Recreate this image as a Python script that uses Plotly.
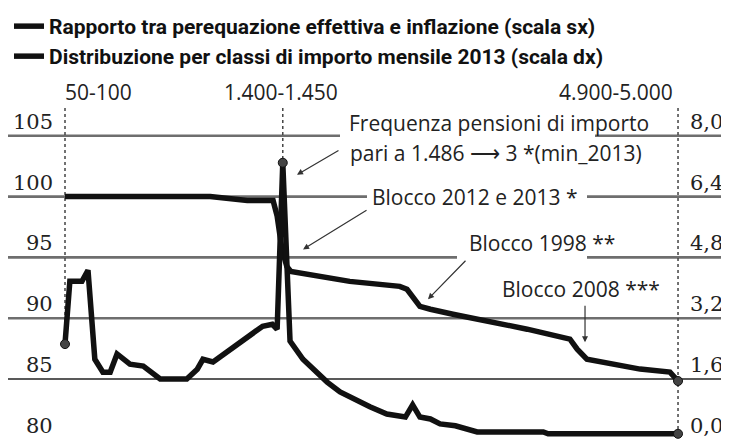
import plotly.graph_objects as go

# ---------------- data (x = position of the monthly-amount class, 0 = "50-100") -------------
ratio_name = "Rapporto tra perequazione effettiva e inflazione (scala sx)"
dist_name = "Distribuzione per classi di importo mensile 2013 (scala dx)"

ratio_x = [0, 18, 22.6, 25.8, 26.3, 26.9, 27.5, 28.0, 35.3, 41.5, 42.4, 44.0, 45.3,
           48.1, 57.3, 62.6, 63.5, 64.7, 71.3, 75.0, 76]
ratio_y = [100, 100, 99.67, 99.67, 98.4, 95.66, 94.26, 93.85, 93.03, 92.62, 92.38,
           90.98, 90.74, 90.33, 89.1, 88.28, 87.46, 86.64, 85.82, 85.57, 84.84]

dist_x = [0, 0.6, 2.1, 2.85, 3.7, 4.7, 5.6, 6.45, 8.05, 9.05, 9.7, 11.8, 15.1, 16.4,
          17.1, 18.35, 24.5, 25.7, 26.3, 27.0, 27.9, 29.5, 30.7, 32.5, 34.1, 36.2,
          37.8, 39.9, 42.2, 43.1, 44.0, 45.3, 46.5, 48.4, 51.1, 59.3, 59.9, 76]
dist_y = [2.52, 4.17, 4.17, 4.46, 2.12, 1.78, 1.78, 2.26, 1.99, 1.94, 1.94, 1.60, 1.60,
          1.86, 2.12, 2.05, 2.99, 3.04, 2.91, 7.29, 2.60, 2.12, 1.86, 1.52, 1.26, 1.02,
          0.87, 0.68, 0.60, 0.92, 0.60, 0.55, 0.42, 0.37, 0.21, 0.21, 0.16, 0.16]

left_ticks = [80, 85, 90, 95, 100, 105]
left_ticktext = ["80", "85", "90", "95", "100", "105"]
right_ticks = [0.0, 1.6, 3.2, 4.8, 6.4, 8.0]
right_ticktext = ["0,0", "1,6", "3,2", "4,8", "6,4", "8,0"]

class_pos = [0, 27, 76]
class_labels = ["50-100", "1.400-1.450", "4.900-5.000"]

# ---------------- layout geometry (positions given in page pixels) ----------------
OFF = 8                      # the page body adds an 8px margin around the figure
W, H = 729, 440
PLOT_L, PLOT_R, PLOT_T, PLOT_B = 56, 689, 100, 440   # plot area in page pixels
ML, MT = PLOT_L - OFF, PLOT_T - OFF
PW, PH = PLOT_R - PLOT_L, PLOT_B - PLOT_T
MR, MB = W - ML - PW, H - MT - PH
Y_RANGE = [79.99, 107.94]
Y2_RANGE = [(Y_RANGE[0] - 80) * 0.32, (Y_RANGE[1] - 80) * 0.32]
X_RANGE = [(PLOT_L - 65) / 8.066, (PLOT_R - 65) / 8.066]


def pxx(px):
    return (px - PLOT_L) / PW


def pxy(py):
    return (PLOT_B - py) / PH


TEXT_FONT = dict(family="Open Sans", size=21, color="#222")
TICK_FONT = dict(family="DejaVu Serif", size=21, color="#222")
LINE_COLOR = "#111"

fig = go.Figure()

fig.add_trace(go.Scatter(x=ratio_x, y=ratio_y, mode="lines", name="<b>" + ratio_name + "</b>",
                         line=dict(color=LINE_COLOR, width=5.5), yaxis="y", legend="legend"))
fig.add_trace(go.Scatter(x=dist_x, y=dist_y, mode="lines", name="<b>" + dist_name + "</b>",
                         line=dict(color=LINE_COLOR, width=5.5), yaxis="y2", legend="legend2"))

peak = dist_y.index(max(dist_y))
fig.add_trace(go.Scatter(x=[dist_x[0], dist_x[peak], dist_x[-1]],
                         y=[dist_y[0], dist_y[peak], dist_y[-1]], mode="markers",
                         marker=dict(size=9, color="#444", line=dict(color="#111", width=1)),
                         yaxis="y2", showlegend=False, hoverinfo="skip"))
fig.add_trace(go.Scatter(x=[ratio_x[-1]], y=[ratio_y[-1]], mode="markers",
                         marker=dict(size=9, color="#444", line=dict(color="#111", width=1)),
                         yaxis="y", showlegend=False, hoverinfo="skip"))

shapes = []
# horizontal reference lines (segments interrupted by the notes)
grid_segments = {
    105: [(8, 340), (595, 728)],
    100: [(8, 367), (587, 728)],
    95: [(8, 457), (587, 728)],
    90: [(8, 728)],
}
for lvl, segs in grid_segments.items():
    for a, b in segs:
        shapes.append(dict(type="line", xref="paper", yref="y", x0=pxx(a), x1=pxx(b),
                           y0=lvl, y1=lvl, layer="below",
                           line=dict(color="#6e6e6e", width=2.6)))
shapes.append(dict(type="line", xref="paper", yref="y", x0=pxx(8), x1=pxx(728),
                   y0=85, y1=85, layer="below", line=dict(color="#222", width=1.4)))

# dotted verticals
top_y2 = Y2_RANGE[1] - (108 - PLOT_T) / (PH / (Y2_RANGE[1] - Y2_RANGE[0]))
ends = [dist_y[0], dist_y[peak], dist_y[-1]]
for xp, ye in zip(class_pos, ends):
    shapes.append(dict(type="line", xref="x", yref="y2", x0=xp, x1=xp, y0=top_y2, y1=ye,
                       layer="below", line=dict(color="#444", width=1.5, dash="dot")))

annotations = []
# axis labels (left: right-aligned, right: left-aligned, sitting on their line)
for v, t in zip(left_ticks, left_ticktext):
    annotations.append(dict(x=pxx(55), xref="paper", y=v, yref="y", text=t,
                            xanchor="right", yanchor="bottom", yshift=0, showarrow=False,
                            font=TICK_FONT))
for v, t in zip(right_ticks, right_ticktext):
    annotations.append(dict(x=pxx(688), xref="paper", y=v, yref="y2", text=t,
                            xanchor="left", yanchor="bottom", yshift=0, showarrow=False,
                            font=TICK_FONT))

anchors = ["left", "center", "right"]
shifts = [-2, -2, -3]
for xp, lab, anc, sh in zip(class_pos, class_labels, anchors, shifts):
    annotations.append(dict(x=xp, xref="x", y=pxy(92), yref="paper", text=lab,
                            xanchor=anc, yanchor="middle", xshift=sh, showarrow=False,
                            font=TEXT_FONT))

notes = [
    ("Frequenza pensioni di importo", 347, 123),
    ("pari a 1.486 \u27f6 3 *(min_2013)", 348, 153),
    ("Blocco 2012 e 2013 *", 370, 197),
    ("Blocco 1998 **", 467, 243),
    ("Blocco 2008 ***", 500, 289),
]
for t, px, py in notes:
    annotations.append(dict(x=pxx(px), xref="paper", y=pxy(py), yref="paper", text=t,
                            xanchor="left", yanchor="middle", showarrow=False,
                            font=TEXT_FONT))

arrows = [  # head (class position, left-scale value), tail offset in px
    (28.76, 101.8, 43, -25),
    (29.51, 95.66, 65, -40),
    (45.0, 91.56, 39, -40),
    (64.47, 88.03, 0, -38),
]
for hx, hy, ax, ay in arrows:
    annotations.append(dict(x=hx, y=hy, xref="x", yref="y", ax=ax, ay=ay, text="",
                            showarrow=True, arrowhead=2, arrowsize=1, arrowwidth=1.2,
                            arrowcolor="#333", standoff=0))

LEG_FONT = dict(family="Roboto", size=21, color="#111")
fig.update_layout(
    width=W, height=H,
    margin=dict(l=ML, r=MR, t=MT, b=MB, pad=0, autoexpand=False),
    paper_bgcolor="white", plot_bgcolor="white",
    showlegend=True,
    legend=dict(x=pxx(9), y=pxy(6), xanchor="left", yanchor="top", font=LEG_FONT,
                bgcolor="rgba(0,0,0,0)"),
    legend2=dict(x=pxx(9), y=pxy(36), xanchor="left", yanchor="top", font=LEG_FONT,
                 bgcolor="rgba(0,0,0,0)"),
    xaxis=dict(range=X_RANGE, showgrid=False, zeroline=False, showline=False,
               showticklabels=False, ticks=""),
    yaxis=dict(range=Y_RANGE, showgrid=False, zeroline=False, showline=False,
               showticklabels=False, ticks=""),
    yaxis2=dict(range=Y2_RANGE, overlaying="y", side="right",
                showgrid=False, zeroline=False, showline=False,
                showticklabels=False, ticks=""),
    shapes=shapes,
    annotations=annotations,
)

fig.write_html("out.html")
